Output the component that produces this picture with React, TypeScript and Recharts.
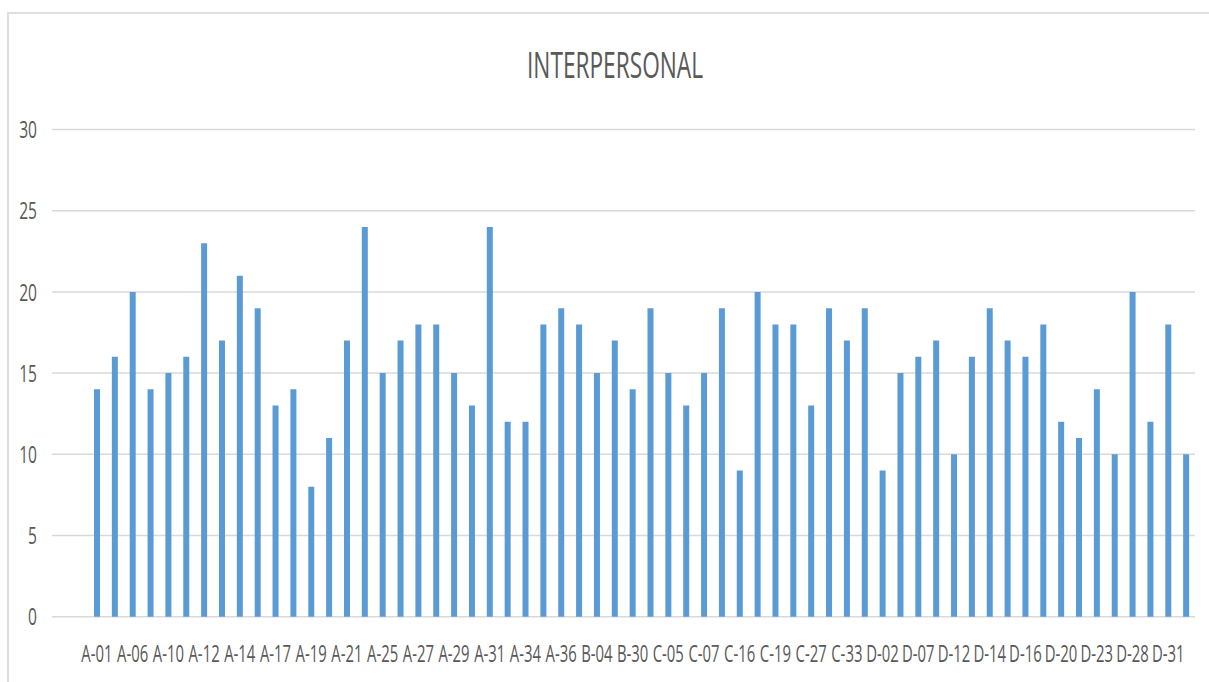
import React from 'react';
import { Bar, BarChart, CartesianGrid, XAxis, YAxis } from 'recharts';

const codes = [
  'A-01', 'A-03', 'A-06', 'A-08', 'A-10', 'A-11', 'A-12', 'A-13', 'A-14', 'A-16',
  'A-17', 'A-18', 'A-19', 'A-20', 'A-21', 'A-23', 'A-25', 'A-26', 'A-27', 'A-28',
  'A-29', 'A-30', 'A-31', 'A-32', 'A-34', 'A-35', 'A-36', 'B-01', 'B-04', 'B-12',
  'B-30', 'C-02', 'C-05', 'C-06', 'C-07', 'C-10', 'C-16', 'C-18', 'C-19', 'C-22',
  'C-27', 'C-30', 'C-33', 'D-01', 'D-02', 'D-05', 'D-07', 'D-09', 'D-12', 'D-13',
  'D-14', 'D-15', 'D-16', 'D-18', 'D-20', 'D-21', 'D-23', 'D-25', 'D-28', 'D-29',
  'D-31', 'D-33',
];

const scores = [
  14, 16, 20, 14, 15, 16, 23, 17, 21, 19,
  13, 14, 8, 11, 17, 24, 15, 17, 18, 18,
  15, 13, 24, 12, 12, 18, 19, 18, 15, 17,
  14, 19, 15, 13, 15, 19, 9, 20, 18, 18,
  13, 19, 17, 19, 9, 15, 16, 17, 10, 16,
  19, 17, 16, 18, 12, 11, 14, 10, 20, 12,
  18, 10,
];

const yTicks = [0, 5, 10, 15, 20, 25, 30];

const data = codes.map((code, i) => ({ code, value: scores[i] }));

const FONT = '"Open Sans", "DejaVu Sans", sans-serif';
const SQUEEZE = 0.62;

const XTick = (props: any) => {
  const { x, y, payload } = props;
  return (
    <g transform={`translate(${x},${y + 45})`}>
      <text transform={`scale(${SQUEEZE},1)`} textAnchor="middle" fill="#595959" fontSize={24} fontFamily={FONT}>
        {payload.value}
      </text>
    </g>
  );
};

const YTick = (props: any) => {
  const { x, y, payload } = props;
  return (
    <g transform={`translate(${x},${y})`}>
      <text transform={`scale(0.65,1)`} textAnchor="end" dy="0.36em" fill="#595959" fontSize={24} fontFamily={FONT}>
        {payload.value}
      </text>
    </g>
  );
};

export default function App() {
  return (
    <div style={{ position: 'absolute', left: 0, top: 0, width: 1209, height: 682, background: '#fff', overflow: 'hidden' }}>
      <div
        style={{
          position: 'absolute',
          left: 7,
          top: 12,
          width: 1300,
          height: 800,
          borderTop: '2px solid #dedede',
          borderLeft: '2px solid #dedede',
        }}
      />
      <svg width={1209} height={682} style={{ position: 'absolute', left: 0, top: 0 }}>
        <g transform="translate(615,78.3)">
          <text transform="scale(0.613,1)" textAnchor="middle" fill="#595959" fontSize={37} fontFamily={FONT}>
            INTERPERSONAL
          </text>
        </g>
      </svg>
      <div style={{ position: 'absolute', left: 0, top: 0 }}>
        <BarChart width={1209} height={682} data={data} margin={{ top: 129.5, right: 14, left: 7, bottom: 5.3 }}>
          <CartesianGrid vertical={false} stroke="#d9d9d9" strokeWidth={1.5} />
          <XAxis
            dataKey="code"
            interval={1}
            axisLine={false}
            tickLine={false}
            tickSize={0}
            tickMargin={0}
            height={60}
            padding={{ left: 36, right: 0 }}
            tick={<XTick />}
          />
          <YAxis
            domain={[0, 30]}
            ticks={yTicks}
            width={45}
            axisLine={false}
            tickLine={false}
            tickSize={0}
            tickMargin={15}
            tick={<YTick />}
          />
          <Bar dataKey="value" fill="#5b9bd5" barSize={6} isAnimationActive={false} />
        </BarChart>
      </div>
    </div>
  );
}
